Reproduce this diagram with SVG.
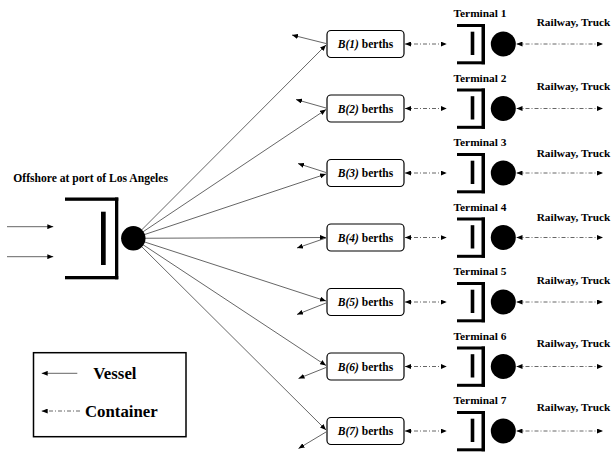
<svg xmlns="http://www.w3.org/2000/svg" width="614" height="453" viewBox="0 0 614 453">
<defs>
<marker id="ah" viewBox="0 0 6 5" refX="6" refY="2.5" markerWidth="6" markerHeight="5" markerUnits="userSpaceOnUse" orient="auto-start-reverse"><path d="M0,0 L6,2.5 L0,5 z" fill="#000"/></marker>
</defs>
<style>
.t{font-family:"Liberation Serif","Times New Roman",serif;font-weight:bold;fill:#000}
.v{stroke:#555;stroke-width:0.9;fill:none;marker-end:url(#ah)}
.c{stroke:#666;stroke-width:1;stroke-dasharray:4 2 1 2;fill:none;marker-start:url(#ah);marker-end:url(#ah)}
.bar{fill:#000}
.box{fill:#fff;stroke:#000;stroke-width:1.2}
</style>
<rect width="614" height="453" fill="#fff"/>

<g id="connectors">
  <line class="v" x1="7" y1="226.7" x2="53.3" y2="226.7"/>
  <line class="v" x1="7" y1="256.7" x2="53.3" y2="256.7"/>
  <line class="v" x1="133.3" y1="238.3" x2="326" y2="45"/>
  <line class="v" x1="133.3" y1="238.3" x2="326" y2="109.5"/>
  <line class="v" x1="133.3" y1="238.3" x2="326" y2="174"/>
  <line class="v" x1="133.3" y1="238.3" x2="326" y2="237.5"/>
  <line class="v" x1="133.3" y1="238.3" x2="326" y2="301"/>
  <line class="v" x1="133.3" y1="238.3" x2="326" y2="365.5"/>
  <line class="v" x1="133.3" y1="238.3" x2="326" y2="430"/>
  <line class="v" x1="326" y1="43.5" x2="292" y2="35"/>
  <line class="v" x1="326" y1="108" x2="296" y2="99.5"/>
  <line class="v" x1="326" y1="172.5" x2="298" y2="163.5"/>
  <line class="v" x1="326" y1="238" x2="297" y2="248"/>
  <line class="v" x1="326" y1="303" x2="297" y2="314.5"/>
  <line class="v" x1="326" y1="367.5" x2="298.5" y2="378.5"/>
  <line class="v" x1="326" y1="432" x2="298.5" y2="448.5"/>
  <line class="c" x1="405" y1="44" x2="446.7" y2="44"/>
  <line class="c" x1="405" y1="108.5" x2="446.7" y2="108.5"/>
  <line class="c" x1="405" y1="173" x2="446.7" y2="173"/>
  <line class="c" x1="405" y1="237.5" x2="446.7" y2="237.5"/>
  <line class="c" x1="405" y1="302" x2="446.7" y2="302"/>
  <line class="c" x1="405" y1="366.5" x2="446.7" y2="366.5"/>
  <line class="c" x1="405" y1="431" x2="446.7" y2="431"/>
  <line class="c" x1="516.5" y1="44" x2="603" y2="44"/>
  <line class="c" x1="516.5" y1="108.5" x2="603" y2="108.5"/>
  <line class="c" x1="516.5" y1="173" x2="603" y2="173"/>
  <line class="c" x1="516.5" y1="237.5" x2="603" y2="237.5"/>
  <line class="c" x1="516.5" y1="302" x2="603" y2="302"/>
  <line class="c" x1="516.5" y1="366.5" x2="603" y2="366.5"/>
  <line class="c" x1="516.5" y1="431" x2="603" y2="431"/>
</g>

<g id="offshore">
  <text class="t" x="13.3" y="181.7" font-size="11.6">Offshore at port of Los Angeles</text>
  <rect class="bar" x="65" y="197.5" width="53.3" height="3.3"/>
  <rect class="bar" x="115" y="197.5" width="3.3" height="81.8"/>
  <rect class="bar" x="65" y="276" width="53.3" height="3.3"/>
  <rect class="bar" x="101" y="211.7" width="4.7" height="53.3"/>
  <circle cx="133.3" cy="238.3" r="12.2" fill="#000"/>
</g>

<g id="berth1" transform="translate(0,44)"><rect class="box" x="327" y="-13.5" width="77" height="27" rx="4"/><text class="t" x="365.5" y="4" font-size="11.5" text-anchor="middle"><tspan font-style="italic">B(1)</tspan> berths</text></g>
<g id="berth2" transform="translate(0,108.5)"><rect class="box" x="327" y="-13.5" width="77" height="27" rx="4"/><text class="t" x="365.5" y="4" font-size="11.5" text-anchor="middle"><tspan font-style="italic">B(2)</tspan> berths</text></g>
<g id="berth3" transform="translate(0,173)"><rect class="box" x="327" y="-13.5" width="77" height="27" rx="4"/><text class="t" x="365.5" y="4" font-size="11.5" text-anchor="middle"><tspan font-style="italic">B(3)</tspan> berths</text></g>
<g id="berth4" transform="translate(0,237.5)"><rect class="box" x="327" y="-13.5" width="77" height="27" rx="4"/><text class="t" x="365.5" y="4" font-size="11.5" text-anchor="middle"><tspan font-style="italic">B(4)</tspan> berths</text></g>
<g id="berth5" transform="translate(0,302)"><rect class="box" x="327" y="-13.5" width="77" height="27" rx="4"/><text class="t" x="365.5" y="4" font-size="11.5" text-anchor="middle"><tspan font-style="italic">B(5)</tspan> berths</text></g>
<g id="berth6" transform="translate(0,366.5)"><rect class="box" x="327" y="-13.5" width="77" height="27" rx="4"/><text class="t" x="365.5" y="4" font-size="11.5" text-anchor="middle"><tspan font-style="italic">B(6)</tspan> berths</text></g>
<g id="berth7" transform="translate(0,431)"><rect class="box" x="327" y="-13.5" width="77" height="27" rx="4"/><text class="t" x="365.5" y="4" font-size="11.5" text-anchor="middle"><tspan font-style="italic">B(7)</tspan> berths</text></g>

<g id="terminal1" transform="translate(0,44)">
  <text class="t" x="480" y="-27" font-size="11.4" text-anchor="middle">Terminal 1</text>
  <rect class="bar" x="457" y="-20" width="28" height="3"/><rect class="bar" x="481.5" y="-20" width="3.5" height="40.3"/><rect class="bar" x="457" y="17.3" width="28" height="3"/><rect class="bar" x="470.7" y="-12.3" width="3.6" height="23.3"/>
  <circle cx="503.3" cy="0" r="12.5" fill="#000"/>
  <text class="t" x="536.7" y="-18" font-size="11.3">Railway, Truck</text>
</g>
<g id="terminal2" transform="translate(0,108.5)">
  <text class="t" x="480" y="-27" font-size="11.4" text-anchor="middle">Terminal 2</text>
  <rect class="bar" x="457" y="-20" width="28" height="3"/><rect class="bar" x="481.5" y="-20" width="3.5" height="40.3"/><rect class="bar" x="457" y="17.3" width="28" height="3"/><rect class="bar" x="470.7" y="-12.3" width="3.6" height="23.3"/>
  <circle cx="503.3" cy="0" r="12.5" fill="#000"/>
  <text class="t" x="536.7" y="-18.5" font-size="11.3">Railway, Truck</text>
</g>
<g id="terminal3" transform="translate(0,173)">
  <text class="t" x="480" y="-27" font-size="11.4" text-anchor="middle">Terminal 3</text>
  <rect class="bar" x="457" y="-20" width="28" height="3"/><rect class="bar" x="481.5" y="-20" width="3.5" height="40.3"/><rect class="bar" x="457" y="17.3" width="28" height="3"/><rect class="bar" x="470.7" y="-12.3" width="3.6" height="23.3"/>
  <circle cx="503.3" cy="0" r="12.5" fill="#000"/>
  <text class="t" x="536.7" y="-16" font-size="11.3">Railway, Truck</text>
</g>
<g id="terminal4" transform="translate(0,237.5)">
  <text class="t" x="480" y="-27" font-size="11.4" text-anchor="middle">Terminal 4</text>
  <rect class="bar" x="457" y="-20" width="28" height="3"/><rect class="bar" x="481.5" y="-20" width="3.5" height="40.3"/><rect class="bar" x="457" y="17.3" width="28" height="3"/><rect class="bar" x="470.7" y="-12.3" width="3.6" height="23.3"/>
  <circle cx="503.3" cy="0" r="12.5" fill="#000"/>
  <text class="t" x="536.7" y="-16.5" font-size="11.3">Railway, Truck</text>
</g>
<g id="terminal5" transform="translate(0,302)">
  <text class="t" x="480" y="-27" font-size="11.4" text-anchor="middle">Terminal 5</text>
  <rect class="bar" x="457" y="-20" width="28" height="3"/><rect class="bar" x="481.5" y="-20" width="3.5" height="40.3"/><rect class="bar" x="457" y="17.3" width="28" height="3"/><rect class="bar" x="470.7" y="-12.3" width="3.6" height="23.3"/>
  <circle cx="503.3" cy="0" r="12.5" fill="#000"/>
  <text class="t" x="536.7" y="-18" font-size="11.3">Railway, Truck</text>
</g>
<g id="terminal6" transform="translate(0,366.5)">
  <text class="t" x="480" y="-27" font-size="11.4" text-anchor="middle">Terminal 6</text>
  <rect class="bar" x="457" y="-20" width="28" height="3"/><rect class="bar" x="481.5" y="-20" width="3.5" height="40.3"/><rect class="bar" x="457" y="17.3" width="28" height="3"/><rect class="bar" x="470.7" y="-12.3" width="3.6" height="23.3"/>
  <circle cx="503.3" cy="0" r="12.5" fill="#000"/>
  <text class="t" x="536.7" y="-20" font-size="11.3">Railway, Truck</text>
</g>
<g id="terminal7" transform="translate(0,431)">
  <text class="t" x="480" y="-27" font-size="11.4" text-anchor="middle">Terminal 7</text>
  <rect class="bar" x="457" y="-20" width="28" height="3"/><rect class="bar" x="481.5" y="-20" width="3.5" height="40.3"/><rect class="bar" x="457" y="17.3" width="28" height="3"/><rect class="bar" x="470.7" y="-12.3" width="3.6" height="23.3"/>
  <circle cx="503.3" cy="0" r="12.5" fill="#000"/>
  <text class="t" x="536.7" y="-20" font-size="11.3">Railway, Truck</text>
</g>

<g id="legend">
  <rect x="33.5" y="352.7" width="152.5" height="84" fill="none" stroke="#000" stroke-width="1.5"/>
  <line x1="77.3" y1="373.3" x2="41.7" y2="373.3" stroke="#555" stroke-width="0.9" marker-end="url(#ah)"/>
  <text class="t" x="93.3" y="379.3" font-size="16.8">Vessel</text>
  <line x1="80" y1="411" x2="41.7" y2="411" stroke="#666" stroke-width="1" stroke-dasharray="4 2 1 2" marker-end="url(#ah)"/>
  <text class="t" x="85" y="416.5" font-size="16.8">Container</text>
</g>
</svg>
